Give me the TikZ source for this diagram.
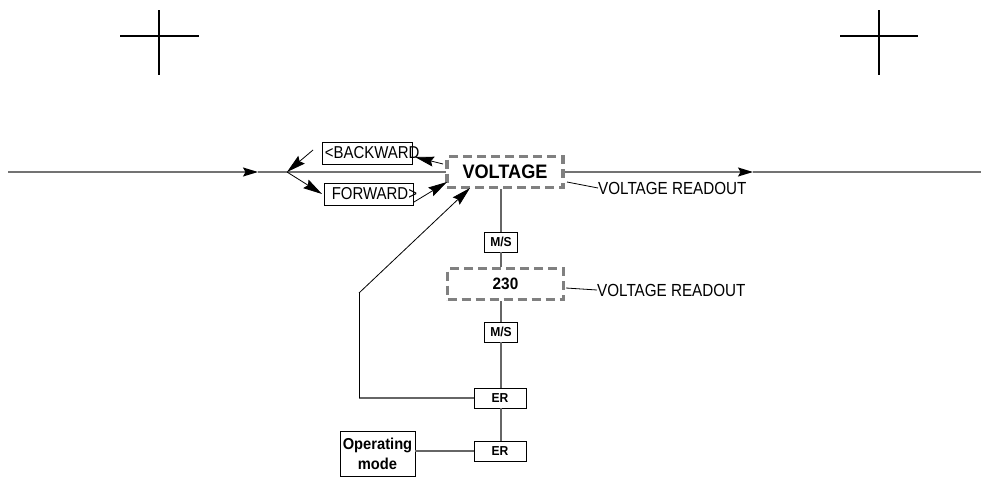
\documentclass[tikz,border=0pt]{standalone}
\usepackage{fontspec}
\setmainfont{Liberation Sans}
\newfontfamily\condfont[FakeStretch=0.87]{Liberation Sans}
\newfontfamily\boldcond[FakeStretch=0.93]{Liberation Sans Bold}
\usetikzlibrary{arrows.meta}
\begin{document}
\begin{tikzpicture}[x=1pt,y=-1pt,
  mainline/.style={draw=black!55,line width=1.3pt},
  thinline/.style={draw=black,line width=0.8pt},
  greyline/.style={draw=black!60,line width=1.2pt},
  tip/.style={-{Stealth[length=15pt,width=9pt,inset=2.5pt,black]}},
  longtip/.style={-{Stealth[length=19pt,width=10pt,inset=2.5pt,black]}},
  cross/.style={draw=black,line width=1.6pt},
  txtbox/.style={draw=black,line width=0.8pt,fill=white,inner sep=0pt},
  boxtext/.style={anchor=west,inner sep=0pt,font=\condfont\fontsize{17.2}{17}\selectfont},
  keybox/.style={draw=black,line width=0.9pt,fill=white,inner sep=0pt,minimum width=33pt,minimum height=20pt,font=\boldcond\fontsize{13}{13}\selectfont},
  erbox/.style={keybox,minimum width=52pt},
  dispbox/.style={draw=black!50,line width=3.2pt,dash pattern=on 9pt off 5pt,fill=white,inner sep=0pt,minimum width=116pt,minimum height=31pt},
  readout/.style={anchor=west,inner sep=0pt,font=\condfont\fontsize{17.5}{17}\selectfont}
]
\useasboundingbox (0,0) rectangle (981,479);
% crosses
\draw[cross] (120,36) -- (199,36) (159,10) -- (159,75);
\draw[cross] (840,36) -- (918,36) (879,10) -- (879,75);
% coordinates
\coordinate (start) at (8,172);
\coordinate (a1) at (258,172);
\coordinate (branch) at (287,172);
\coordinate (a2) at (753,172);
\coordinate (finish) at (981,172);
% main line
\draw[mainline,tip] (start) -- (a1);
\draw[mainline] (a1) -- (branch) -- (446,172);
\draw[mainline,tip] (564,172) -- (a2);
\draw[mainline] (a2) -- (finish);
% nodes
\node[dispbox] (volt) at (505,172) {\boldcond\fontsize{19.5}{19}\selectfont VOLTAGE};
\node[txtbox,minimum width=90pt,minimum height=22pt] (back) at (367,153) {};
\node[boxtext] at ([xshift=3pt]back.west) {<BACKWARD};
\node[txtbox,minimum width=89pt,minimum height=22pt] (fwd) at (368.5,194) {};
\node[boxtext] at ([xshift=8pt]fwd.west) {FORWARD>};
\node[keybox] (ms1) at (501,242) {M/S};
\node[dispbox] (val) at (505.5,284) {\boldcond\fontsize{16.5}{17}\selectfont 230};
\node[keybox] (ms2) at (501,332) {M/S};
\node[erbox] (er1) at (500,398) {ER};
\node[erbox] (er2) at (500,451) {ER};
\node[draw=black,line width=0.9pt,fill=white,inner sep=0pt,minimum width=75pt,minimum height=45pt,align=center,font=\boldcond\fontsize{15.8}{20}\selectfont] (op) at (377.5,453.5) {Operating\\mode};
\node[readout] (ro1) at (598,188) {VOLTAGE READOUT};
\node[readout] (ro2) at (597,290) {VOLTAGE READOUT};
% branch arrows
\coordinate (bs) at (313,150);
\draw[thinline,longtip] (bs) -- (branch);
\coordinate (fe) at (322,194);
\draw[thinline,longtip] (branch) -- (fe);
\coordinate (vb) at (443,164);
\coordinate (bt) at (415,157);
\draw[thinline,longtip] (vb) -- (bt);
\coordinate (fs) at (414,202);
\coordinate (vt) at (447,182);
\draw[thinline,longtip] (fs) -- (vt);
% vertical chain
\draw[greyline] (volt.south -| ms1) -- (ms1.north);
\draw[greyline] (ms1.south) -- (val.north -| ms1);
\draw[greyline] (val.south -| ms2) -- (ms2.north);
\draw[greyline] (ms2.south) -- (er1.north -| ms2);
\draw[greyline] (er1.south -| ms2) -- (er2.north -| ms2);
\draw[greyline] (op.east |- er2) -- (er2.west);
% feedback
\coordinate (fb1) at (359,398);
\coordinate (fb2) at (359,293);
\coordinate (fbt) at (470,188);
\draw[greyline] (er1.west) -- (fb1);
\draw[thinline] (fb1) -- (fb2);
\draw[thinline,longtip] (fb2) -- (fbt);
% leaders
\draw[thinline] (567,182) -- (ro1.west);
\draw[thinline] (566,288) -- (ro2.west);
\end{tikzpicture}
\end{document}
